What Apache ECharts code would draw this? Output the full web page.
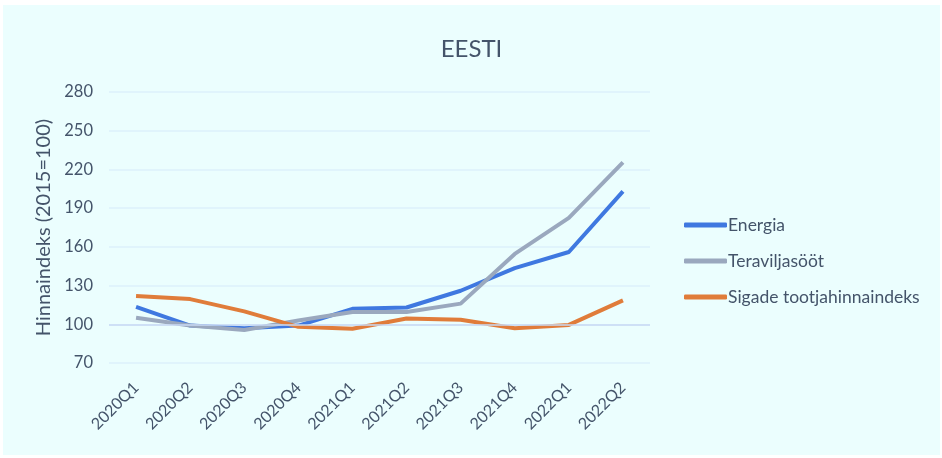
<!DOCTYPE html>
<html>
<head>
<meta charset="utf-8">
<script src="https://cdn.jsdelivr.net/npm/echarts@6/dist/echarts.min.js"></script>
<style>
  body { margin: 0; background: #fff; }
  #c { position: absolute; left: 3px; top: 5px; width: 937px; height: 450px; background: #ebfefe; }
</style>
</head>
<body>
<div id="c"></div>
<script>
const quarters = ['2020Q1', '2020Q2', '2020Q3', '2020Q4', '2021Q1', '2021Q2', '2021Q3', '2021Q4', '2022Q1', '2022Q2']
const energia = [113.5, 99, 97, 99, 112, 113, 126, 143.5, 156, 203]
const teravili = [105, 99, 95.5, 103, 109.5, 109.5, 116, 154.5, 182.5, 225.5]
const sead = [122, 119.5, 110, 98, 96.5, 104.5, 103.5, 97, 99.5, 118.5]

const font = 'Lato'
const textColor = '#44546a'

const mkLine = (name, data, color) => ({
  name,
  type: 'line',
  data,
  symbol: 'none',
  lineStyle: { width: 4, color },
  itemStyle: { color }
})

const chart = echarts.init(document.getElementById('c'))
const series = [
  mkLine('Energia', energia, '#3f78e0'),
  mkLine('Teraviljasööt', teravili, '#9aa8be'),
  mkLine('Sigade tootjahinnaindeks', sead, '#e07c3a')
]
// Excel draws the category axis crossing at 100
series[0].markLine = {
  silent: true,
  symbol: 'none',
  label: { show: false },
  lineStyle: { color: '#c8daf5', width: 1.5, type: 'solid' },
  data: [{ yAxis: 100 }]
}
series[0].z = 3

chart.setOption({
  animation: false,
  textStyle: { fontFamily: font },
  title: {
    text: 'EESTI',
    left: 'center',
    top: 27,
    textStyle: { fontFamily: font, fontWeight: 'normal', fontSize: 24, color: textColor }
  },
  legend: {
    orient: 'vertical',
    left: 676,
    top: 206,
    itemGap: 18,
    itemWidth: 43,
    itemHeight: 5,
    icon: 'roundRect',
    textStyle: { fontSize: 17.5, color: textColor, padding: [0, 0, 0, -4] },
    data: series.map(s => s.name)
  },
  grid: { left: 106, right: 290, top: 87, bottom: 92 },
  xAxis: {
    type: 'category',
    data: quarters,
    boundaryGap: true,
    axisLine: { show: false },
    axisTick: { show: false },
    axisLabel: { rotate: 45, fontSize: 16, color: textColor, margin: 22, interval: 0 }
  },
  yAxis: {
    type: 'value',
    min: 70,
    max: 280,
    interval: 30,
    name: 'Hinnaindeks (2015=100)',
    nameLocation: 'middle',
    nameGap: 55,
    nameTextStyle: { fontSize: 20, color: textColor },
    axisLine: { show: false },
    axisTick: { show: false },
    axisLabel: { fontSize: 16.5, color: textColor, margin: 16 },
    splitLine: { lineStyle: { color: '#dcf0fb', width: 1.5 } }
  },
  series
})
</script>
</body>
</html>
